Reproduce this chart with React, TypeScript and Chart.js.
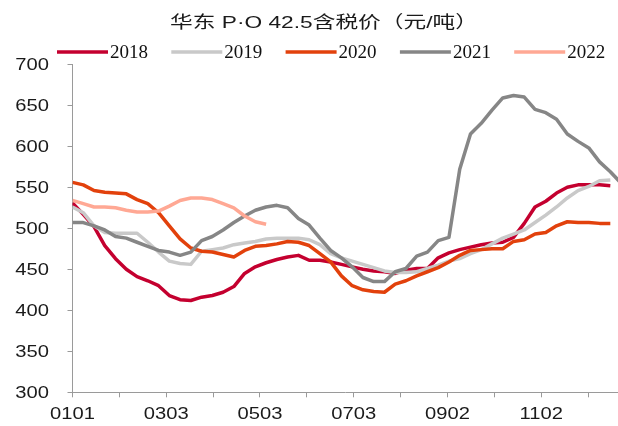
import React, { useEffect, useRef } from 'react';
import { Chart, registerables } from 'chart.js';

Chart.register(...registerables);

const TITLE = '华东 P·O 42.5含税价（元/吨）';
const SERIES_NAMES = ['2018', '2019', '2020', '2021', '2022'];
const SERIES_COLORS = ['#C4002F', '#C9C9C9', '#E2410C', '#868686', '#FFA894'];

// day offsets from 01-01 (weekly samples)
const DAYS = [0, 7, 14, 21, 28, 35, 42, 49, 56, 63, 70, 77, 84, 91, 98, 105, 112, 119, 126, 133,
  140, 147, 154, 161, 168, 175, 182, 189, 196, 203, 210, 217, 224, 231, 238, 245, 252, 259, 266, 273,
  280, 287, 294, 301, 308, 315, 322, 329, 336, 343, 350, 357];

const V2018 = [531, 517, 502, 479, 463, 450, 441, 436, 430, 418,
  413, 412, 416, 418, 422, 429, 445, 453, 458, 462,
  465, 467, 461, 461, 459, 456, 453, 450, 448, 447,
  445, 449, 451, 451, 464, 470, 474, 477, 480, 482,
  483, 489, 506, 526, 533, 543, 550, 553, 553, 553, 552];
const V2019 = [526, 519, 503, 495, 494, 494, 494, 483, 471, 460,
  457, 456, 472, 474, 476, 480, 482, 484, 487, 488,
  488, 488, 486, 480, 469, 464, 460, 456, 452, 448,
  446, 446, 447, 451, 455, 460, 463, 469, 474, 481,
  488, 493, 498, 507, 516, 526, 537, 546, 551, 558, 559];
const V2020 = [556, 553, 546, 544, 543, 542, 535, 530, 519, 503,
  487, 476, 472, 471, 468, 465, 473, 478, 479, 481,
  484, 483, 479, 469, 459, 442, 430, 425, 423, 422,
  432, 436, 442, 447, 452, 459, 467, 473, 474, 475,
  475, 484, 486, 493, 495, 503, 508, 507, 507, 506, 506];
const V2021 = [507, 507, 503, 498, 490, 488, 483, 478, 473, 471,
  467, 471, 485, 490, 498, 507, 515, 522, 526, 528,
  525, 512, 504, 488, 473, 464, 453, 440, 435, 435,
  447, 451, 466, 471, 485, 489, 572, 615, 628, 644,
  659, 662, 660, 645, 641, 633, 615, 606, 598, 581, 569, 555];
const V2022 = [534, 530, 526, 526, 525, 522, 520, 520, 521, 527,
  534, 537, 537, 535, 530, 525, 515, 508, 505];

const Y_TICKS = [300, 350, 400, 450, 500, 550, 600, 650, 700];
const X_LABELS = ['0101', '0303', '0503', '0703', '0902', '1102'];
const X_LABEL_DAYS = [0, 61, 122, 183, 244, 305];
const X_TICK_DAYS = [0, 30.5, 61, 91.5, 122, 152.5, 183, 213.5, 244, 274.5, 305, 335.5];

export default function App() {
  const ref = useRef<HTMLCanvasElement>(null);

  useEffect(() => {
    const canvas = ref.current;
    if (!canvas) return;
    const series = [V2018, V2019, V2020, V2021, V2022];
    const datasets = series.map((vals, i) => ({
      label: SERIES_NAMES[i],
      data: vals.map((v, j) => ({ x: DAYS[j], y: v })),
      borderColor: SERIES_COLORS[i],
      backgroundColor: SERIES_COLORS[i],
      borderWidth: 3.5,
      pointRadius: 0,
      tension: 0,
      borderJoinStyle: 'round' as const,
      fill: false,
      order: series.length - i,
    }));

    const TICK_FONT = '16px "Liberation Sans", Arial, sans-serif';
    const TICK_STRETCH = 1.26;

    const textPlugin = {
      id: 'customText',
      afterDraw(chart: any) {
        const ctx: CanvasRenderingContext2D = chart.ctx;
        ctx.save();
        // title
        ctx.font = '17px "Liberation Sans", "Noto Sans CJK SC", sans-serif';
        ctx.fillStyle = '#1a1a1a';
        ctx.textBaseline = 'middle';
        ctx.textAlign = 'center';
        const tw = ctx.measureText(TITLE).width;
        ctx.save();
        ctx.translate(324, 23);
        ctx.scale(308 / tw, 1);
        ctx.fillText(TITLE, 0, 0);
        ctx.restore();

        // legend
        ctx.font = '19px "Liberation Serif", "Times New Roman", serif';
        ctx.textAlign = 'left';
        SERIES_NAMES.forEach((name, i) => {
          const x0 = 57 + i * 114.3;
          const y0 = 52;
          ctx.strokeStyle = SERIES_COLORS[i];
          ctx.lineWidth = 3.5;
          ctx.lineCap = 'butt';
          ctx.beginPath();
          ctx.moveTo(x0, y0);
          ctx.lineTo(x0 + 51, y0);
          ctx.stroke();
          ctx.fillStyle = '#111';
          ctx.fillText(name, x0 + 53, y0 + 1);
        });

        // y tick labels
        ctx.font = TICK_FONT;
        ctx.fillStyle = '#1a1a1a';
        ctx.textAlign = 'right';
        const ys = chart.scales.y;
        Y_TICKS.forEach((v) => {
          const y = ys.getPixelForValue(v);
          ctx.save();
          ctx.translate(49, y + 1);
          ctx.scale(TICK_STRETCH, 1);
          ctx.fillText(String(v), 0, 0);
          ctx.restore();
        });

        // x tick labels
        ctx.textAlign = 'center';
        const xs = chart.scales.x;
        X_LABELS.forEach((lab, k) => {
          const x = xs.getPixelForValue(X_LABEL_DAYS[k]);
          ctx.save();
          ctx.translate(x, 415);
          ctx.scale(TICK_STRETCH, 1);
          ctx.fillText(lab, 0, 0);
          ctx.restore();
        });
        ctx.restore();
      },
    };

    const chart = new Chart(canvas, {
      type: 'line',
      data: { datasets },
      options: {
        animation: false,
        responsive: false,
        devicePixelRatio: 1,
        layout: { padding: { top: 64.3, left: 0, right: 0, bottom: 0 } },
        plugins: {
          legend: { display: false },
          title: { display: false },
          tooltip: { enabled: false },
        },
        scales: {
          x: {
            type: 'linear',
            min: 0,
            max: 355,
            afterBuildTicks: (scale: any) => {
              scale.ticks = X_TICK_DAYS.map((v) => ({ value: v }));
            },
            afterFit: (scale: any) => {
              scale.height = 33.7;
            },
            ticks: { display: false },
            grid: { drawOnChartArea: false, drawTicks: true, tickLength: 5, color: '#9a9a9a', lineWidth: 1 },
            border: { color: '#9a9a9a', width: 1 },
          },
          y: {
            min: 300,
            max: 700,
            afterBuildTicks: (scale: any) => {
              scale.ticks = Y_TICKS.map((v) => ({ value: v }));
            },
            afterFit: (scale: any) => {
              scale.width = 72.5;
            },
            ticks: { display: false },
            grid: { drawOnChartArea: false, drawTicks: true, tickLength: 5, color: '#9a9a9a', lineWidth: 1 },
            border: { color: '#9a9a9a', width: 1 },
          },
        },
      },
      plugins: [textPlugin],
    });
    return () => chart.destroy();
  }, []);

  return (
    <div style={{ position: 'fixed', left: 0, top: 0, width: 618, height: 426, background: '#fff' }}>
      <canvas ref={ref} width={618} height={426} style={{ display: 'block' }} />
    </div>
  );
}
